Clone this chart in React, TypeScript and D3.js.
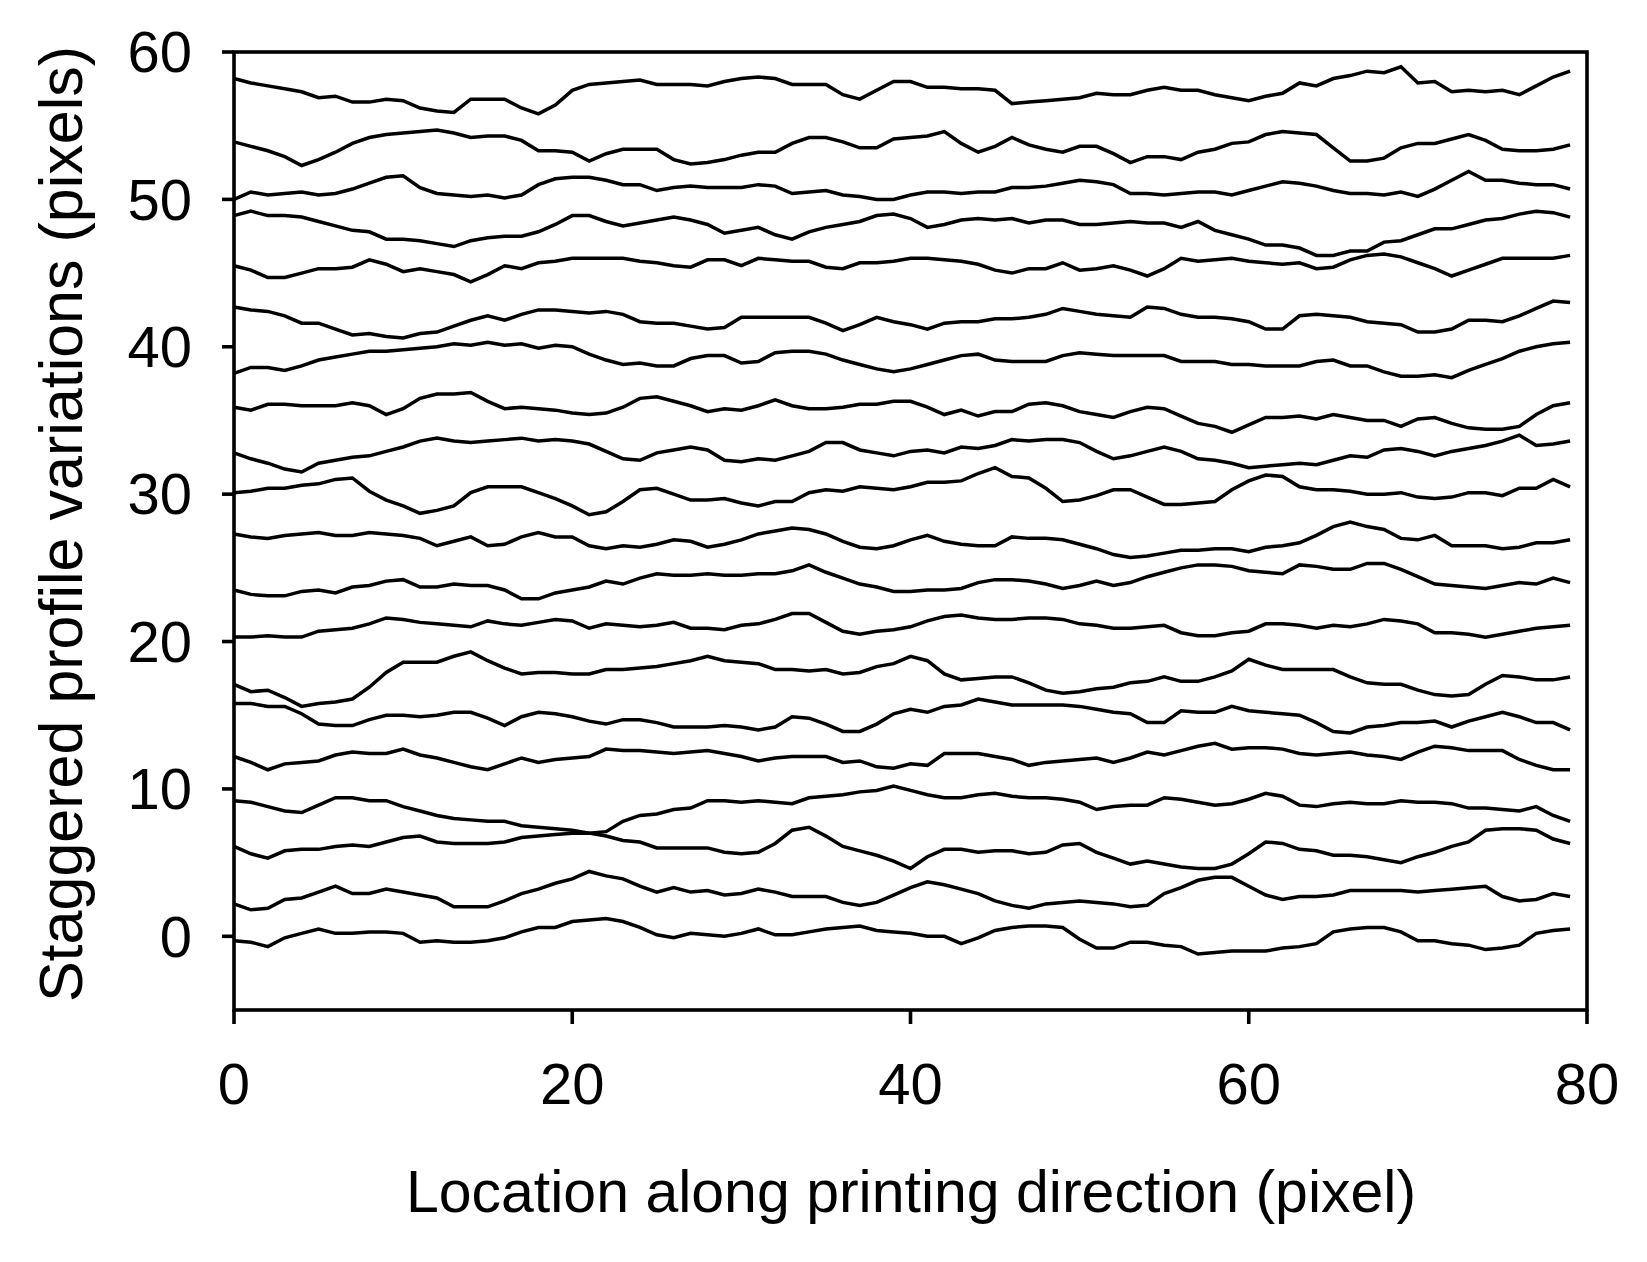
import React from 'react';
import * as d3 from 'd3';

const xTicks = [0, 20, 40, 60, 80];
const yTicks = [0, 10, 20, 30, 40, 50, 60];
const xTitle = 'Location along printing direction (pixel)';
const yTitle = 'Staggered profile variations (pixels)';

const L1 = [58.2,57.9,57.7,57.5,57.3,56.9,57.0,56.6,56.6,56.8,56.7,56.2,56.0,55.9,56.8,56.8,56.8,56.2,55.8,56.4,57.4,57.8,57.9,58.0,58.1,57.8,57.8,57.8,
  57.7,58.0,58.2,58.3,58.2,57.8,57.8,57.8,57.1,56.8,57.4,58.0,58.0,57.6,57.6,57.5,57.5,57.4,56.5,56.6,56.7,56.8,56.9,57.2,57.1,57.1,57.4,
  57.6,57.4,57.4,57.1,56.9,56.7,57.0,57.2,57.9,57.7,58.2,58.4,58.7,58.6,59.0,57.9,58.0,57.3,57.4,57.3,57.4,57.1,57.7,58.3,58.7];
const L2 = [53.9,53.6,53.3,52.9,52.3,52.7,53.2,53.8,54.2,54.4,54.5,54.6,54.7,54.5,54.2,54.3,54.3,54.0,53.3,53.3,53.2,52.6,53.1,53.4,53.4,53.4,52.7,52.4,
  52.5,52.7,53.0,53.2,53.2,53.8,54.2,54.2,53.9,53.5,53.5,54.1,54.2,54.3,54.6,53.8,53.2,53.6,54.2,53.7,53.4,53.2,53.6,53.6,53.1,52.5,52.9,
  52.9,52.7,53.2,53.4,53.8,53.9,54.4,54.6,54.5,54.4,53.5,52.6,52.6,52.8,53.5,53.8,53.8,54.1,54.4,54.0,53.4,53.3,53.3,53.4,53.7];
const L3 = [50.0,50.5,50.3,50.4,50.5,50.3,50.4,50.7,51.1,51.5,51.6,50.8,50.4,50.3,50.2,50.3,50.1,50.3,51.0,51.4,51.5,51.5,51.3,51.0,51.0,50.6,50.8,50.9,
  50.8,50.8,50.8,51.0,50.9,50.4,50.5,50.6,50.3,50.2,50.0,50.0,50.3,50.5,50.5,50.4,50.5,50.5,50.8,50.8,50.9,51.1,51.3,51.2,51.0,50.4,50.4,
  50.3,50.4,50.5,50.5,50.3,50.6,50.9,51.2,51.1,50.9,50.6,50.4,50.4,50.3,50.5,50.2,50.7,51.3,51.9,51.3,51.3,51.1,51.0,51.0,50.7];
const L4 = [48.9,49.2,48.9,48.9,48.8,48.5,48.2,47.9,47.8,47.3,47.3,47.2,47.0,46.8,47.2,47.4,47.5,47.5,47.8,48.3,48.9,48.9,48.5,48.2,48.4,48.6,48.8,48.6,
  48.3,47.7,47.9,48.1,47.6,47.3,47.8,48.1,48.3,48.5,48.9,49.0,48.7,48.1,48.3,48.6,48.7,48.6,48.7,48.4,48.6,48.6,48.3,48.3,48.4,48.5,48.4,
  48.4,48.1,48.5,47.9,47.6,47.3,46.9,46.9,46.7,46.2,46.2,46.5,46.5,47.1,47.2,47.6,48.0,48.0,48.3,48.6,48.7,49.0,49.2,49.1,48.8];
const L5 = [45.5,45.2,44.7,44.7,45.0,45.3,45.3,45.4,45.9,45.6,45.1,45.3,45.1,44.9,44.4,44.9,45.5,45.3,45.7,45.8,46.0,46.0,46.0,46.0,45.8,45.7,45.5,45.4,
  45.9,45.9,45.5,46.0,45.9,45.8,45.8,45.4,45.3,45.7,45.7,45.8,46.0,46.0,45.9,45.8,45.6,45.2,45.0,45.3,45.3,45.7,45.2,45.3,45.5,45.2,44.8,
  45.3,46.0,45.8,45.9,46.0,45.8,45.7,45.6,45.7,45.3,45.4,45.9,46.2,46.3,46.1,45.7,45.3,44.8,45.2,45.6,46.0,46.0,46.0,46.0,46.2];
const L6 = [42.7,42.5,42.4,42.1,41.6,41.6,41.2,40.8,40.9,40.7,40.6,40.9,41.0,41.4,41.8,42.1,41.8,42.2,42.5,42.5,42.4,42.3,42.4,42.2,41.7,41.6,41.6,41.4,
  41.2,41.3,42.0,42.0,42.0,42.0,42.0,41.6,41.1,41.5,42.0,41.7,41.5,41.2,41.6,41.7,41.7,41.9,41.9,42.0,42.2,42.6,42.4,42.2,42.1,42.0,42.7,
  42.6,42.2,42.0,42.0,41.9,41.7,41.2,41.2,42.1,42.2,42.1,42.0,41.7,41.6,41.5,41.0,41.0,41.2,41.8,41.8,41.7,42.1,42.6,43.1,43.0];
const L7 = [38.2,38.6,38.6,38.4,38.7,39.1,39.3,39.5,39.7,39.7,39.8,39.9,40.0,40.2,40.1,40.3,40.1,40.2,39.9,40.1,40.0,39.5,39.1,38.8,38.9,38.7,38.7,39.2,
  39.4,39.4,38.9,39.0,39.6,39.7,39.7,39.5,39.1,38.8,38.5,38.3,38.5,38.8,39.1,39.4,39.5,39.1,39.0,39.0,39.0,39.4,39.6,39.5,39.4,39.4,39.4,
  39.4,39.0,39.0,39.0,38.8,38.8,38.7,38.7,38.7,39.0,39.1,38.7,38.7,38.3,38.0,38.0,38.1,37.9,38.4,38.8,39.2,39.7,40.0,40.2,40.3];
const L8 = [35.9,35.7,36.1,36.1,36.0,36.0,36.0,36.2,36.0,35.4,35.8,36.5,36.8,36.8,36.9,36.3,35.8,35.9,35.8,35.7,35.5,35.4,35.5,35.9,36.5,36.6,36.3,36.0,
  35.6,35.8,35.7,36.0,36.4,36.0,35.8,35.8,35.9,36.1,36.1,36.3,36.3,35.9,35.4,35.7,35.3,35.6,35.6,36.1,36.2,36.0,35.6,35.4,35.2,35.6,35.9,
  35.8,35.3,34.8,34.6,34.2,34.7,35.2,35.2,35.3,35.1,35.4,35.2,35.0,35.0,34.6,35.1,35.2,34.8,34.5,34.4,34.4,34.6,35.4,36.0,36.2];
const L9 = [32.8,32.4,32.1,31.7,31.5,32.1,32.3,32.5,32.6,32.9,33.2,33.6,33.8,33.6,33.5,33.6,33.7,33.8,33.6,33.7,33.6,33.4,32.9,32.4,32.3,32.8,33.0,33.2,
  33.0,32.3,32.2,32.4,32.3,32.6,32.9,33.5,33.5,33.0,32.8,32.6,32.9,33.0,32.8,33.2,33.1,33.3,33.7,33.6,33.7,33.7,33.5,32.9,32.4,32.6,32.9,
  33.2,32.9,32.4,32.3,32.1,31.8,31.9,32.0,32.1,32.0,32.3,32.6,32.5,33.0,33.1,32.9,32.6,32.9,33.1,33.3,33.6,34.0,33.3,33.4,33.6];
const L10 = [30.1,30.2,30.4,30.4,30.6,30.7,31.0,31.1,30.2,29.6,29.2,28.7,28.9,29.2,30.1,30.5,30.5,30.5,30.1,29.7,29.2,28.6,28.8,29.5,30.3,30.4,30.0,29.6,
  29.6,29.7,29.4,29.2,29.5,29.5,30.1,30.3,30.2,30.5,30.4,30.3,30.5,30.8,30.8,30.9,31.4,31.8,31.2,31.1,30.4,29.5,29.6,29.9,30.3,30.3,29.8,
  29.3,29.3,29.4,29.5,30.3,30.9,31.3,31.2,30.5,30.3,30.3,30.2,30.0,30.0,30.1,29.8,29.7,29.8,30.1,30.1,29.9,30.4,30.4,31.0,30.5];
const L11 = [27.3,27.1,27.0,27.2,27.3,27.4,27.2,27.2,27.4,27.3,27.2,27.0,26.5,26.8,27.1,26.5,26.6,27.1,27.4,27.1,27.1,26.5,26.3,26.5,26.4,26.6,26.9,26.8,
  26.4,26.6,26.9,27.3,27.5,27.7,27.6,27.3,26.8,26.4,26.3,26.5,26.9,27.2,26.8,26.6,26.5,26.5,27.1,27.0,27.0,26.9,26.6,26.3,25.9,25.7,25.8,
  26.0,26.2,26.2,26.3,26.3,26.1,26.4,26.5,26.7,27.2,27.8,28.1,27.8,27.6,27.0,26.9,27.2,26.5,26.5,26.5,26.3,26.4,26.7,26.7,26.9];
const L12 = [23.5,23.2,23.1,23.1,23.4,23.5,23.3,23.7,23.8,24.1,24.2,23.7,23.7,23.9,23.8,23.8,23.5,22.9,22.9,23.3,23.5,23.7,24.1,23.9,24.3,24.6,24.5,24.5,
  24.6,24.5,24.5,24.6,24.6,24.8,25.2,24.7,24.3,23.9,23.7,23.4,23.4,23.5,23.5,23.6,24.0,24.2,24.2,24.1,23.9,23.6,23.8,24.1,23.8,24.0,24.4,
  24.7,25.0,25.2,25.2,25.1,24.8,24.7,24.6,25.2,25.1,24.9,24.9,25.3,25.3,24.9,24.4,23.9,23.8,23.7,23.6,23.8,24.0,23.9,24.3,24.0];
const L13 = [20.3,20.3,20.4,20.3,20.3,20.7,20.8,20.9,21.2,21.6,21.5,21.3,21.2,21.1,21.0,21.4,21.2,21.1,21.3,21.5,21.4,20.9,21.2,21.1,21.0,21.1,21.3,20.9,
  20.9,20.8,21.1,21.2,21.5,21.9,21.9,21.3,20.7,20.5,20.7,20.8,21.0,21.4,21.7,21.8,21.6,21.5,21.5,21.6,21.6,21.5,21.2,21.1,20.9,20.9,21.0,
  21.1,20.6,20.4,20.4,20.6,20.7,21.2,21.2,21.1,20.9,21.1,21.0,21.2,21.5,21.4,21.2,20.6,20.6,20.5,20.3,20.5,20.7,20.9,21.0,21.1];
const L14 = [17.1,16.6,16.7,16.2,15.6,15.8,15.9,16.1,16.9,17.9,18.6,18.6,18.6,19.0,19.3,18.7,18.2,17.8,17.9,17.9,17.8,17.8,18.1,18.1,18.2,18.3,18.5,18.7,
  19.0,18.7,18.6,18.5,18.1,18.1,18.0,18.1,17.8,17.9,18.3,18.5,19.0,18.7,17.8,17.4,17.5,17.6,17.6,17.2,16.7,16.5,16.6,16.8,16.9,17.2,17.3,
  17.6,17.3,17.3,17.6,18.0,18.8,18.4,18.1,18.1,18.1,18.1,17.6,17.2,17.1,17.1,16.7,16.4,16.3,16.4,17.1,17.7,17.6,17.4,17.4,17.6];
const L15 = [15.8,15.8,15.6,15.6,15.1,14.4,14.3,14.3,14.7,15.0,15.0,14.9,15.0,15.2,15.2,14.8,14.3,14.9,15.2,15.1,14.9,14.6,14.4,14.7,14.7,14.5,14.2,14.2,
  14.2,14.3,14.2,14.0,14.2,14.9,14.8,14.4,13.9,13.9,14.4,15.1,15.4,15.2,15.6,15.7,16.1,15.9,15.7,15.7,15.7,15.7,15.6,15.4,15.2,15.1,14.5,
  14.5,15.3,15.2,15.2,15.6,15.3,15.2,15.1,15.0,14.5,13.9,13.8,14.2,14.3,14.5,14.5,14.6,14.2,14.6,14.9,15.2,14.9,14.5,14.5,14.0];
const L16 = [12.2,11.8,11.3,11.7,11.8,11.9,12.3,12.5,12.4,12.4,12.7,12.3,12.1,11.8,11.5,11.3,11.7,12.1,11.8,12.0,12.1,12.2,12.7,12.6,12.6,12.5,12.4,12.5,
  12.6,12.4,12.2,11.9,12.1,12.2,12.2,12.2,11.8,11.9,11.5,11.4,11.7,11.6,12.4,12.4,12.4,12.2,12.0,11.6,11.8,11.9,12.0,12.1,11.8,12.1,12.5,
  12.3,12.6,12.9,13.1,12.7,12.8,12.8,12.7,12.4,12.3,12.4,12.5,12.3,12.2,12.0,12.5,12.9,12.8,12.6,12.6,12.6,12.0,11.6,11.3,11.3];
const L17 = [9.2,9.1,8.8,8.5,8.4,8.9,9.4,9.4,9.2,9.2,8.8,8.5,8.2,8.0,7.9,7.8,7.8,7.5,7.4,7.3,7.2,7.0,6.8,6.5,6.4,6.0,6.0,6.0,
  6.0,5.7,5.6,5.7,6.3,7.2,7.4,6.8,6.1,5.8,5.5,5.1,4.6,5.4,5.9,5.9,5.7,5.8,5.8,5.6,5.7,6.2,6.3,5.7,5.3,4.9,5.1,
  4.9,4.7,4.6,4.6,4.9,5.6,6.4,6.3,5.9,5.8,5.5,5.5,5.4,5.2,5.0,5.4,5.7,6.1,6.4,7.2,7.3,7.3,7.2,6.6,6.3];
const L18 = [6.1,5.6,5.3,5.8,5.9,5.9,6.1,6.2,6.1,6.4,6.7,6.8,6.4,6.3,6.3,6.3,6.4,6.7,6.8,6.9,7.0,7.0,7.1,7.8,8.2,8.3,8.6,8.7,
  9.2,9.2,9.1,9.2,9.1,9.0,9.4,9.5,9.6,9.8,9.9,10.2,9.9,9.6,9.4,9.4,9.6,9.7,9.5,9.4,9.4,9.3,9.1,8.6,8.8,8.9,8.9,
  9.4,9.3,9.1,8.9,9.0,9.3,9.7,9.5,8.9,8.8,9.0,9.1,9.0,9.0,9.2,9.1,9.1,9.0,8.7,8.7,8.6,8.5,8.8,8.2,7.8];
const L19 = [2.2,1.8,1.9,2.5,2.6,3.0,3.4,2.9,2.9,3.2,3.0,2.8,2.6,2.0,2.0,2.0,2.4,2.9,3.2,3.6,3.9,4.4,4.1,3.9,3.4,3.0,3.3,3.0,
  3.1,2.8,2.9,3.2,3.0,2.7,2.7,2.7,2.3,2.1,2.3,2.8,3.3,3.7,3.5,3.2,2.9,2.4,2.1,1.9,2.2,2.3,2.4,2.3,2.2,2.0,2.1,
  2.9,3.3,3.8,4.0,4.0,3.4,2.8,2.5,2.7,2.7,2.8,3.1,3.1,3.1,3.1,3.0,3.1,3.2,3.3,3.4,2.7,2.4,2.5,2.9,2.7];
const L20 = [-0.3,-0.4,-0.7,-0.1,0.2,0.5,0.2,0.2,0.3,0.3,0.2,-0.4,-0.3,-0.4,-0.4,-0.3,-0.1,0.3,0.6,0.6,1.0,1.1,1.2,1.0,0.6,0.1,-0.1,0.2,
  0.1,0.0,0.2,0.5,0.1,0.1,0.3,0.5,0.6,0.7,0.4,0.3,0.2,0.0,0.0,-0.5,-0.1,0.4,0.6,0.7,0.7,0.6,-0.2,-0.8,-0.8,-0.4,-0.4,
  -0.6,-0.7,-1.2,-1.1,-1.0,-1.0,-1.0,-0.8,-0.7,-0.5,0.3,0.5,0.6,0.6,0.3,-0.3,-0.3,-0.5,-0.6,-0.9,-0.8,-0.6,0.2,0.4,0.5];

const profiles = [L1, L2, L3, L4, L5, L6, L7, L8, L9, L10, L11, L12, L13, L14, L15, L16, L17, L18, L19, L20];

export default function App() {
  const W = 1647;
  const H = 1262;
  const left = 234, right = 1587, top = 52, bottom = 1010;
  const x = d3.scaleLinear().domain([0, 80]).range([left, right]);
  const y = d3.scaleLinear().domain([-5, 60]).range([bottom, top]);
  const line = d3.line<number>().x((_, i) => x(i)).y((d) => y(d));
  const font = "'Liberation Sans', Arial, sans-serif";
  const fsTick = 58;
  return (
    <svg width={W} height={H} style={{ position: 'absolute', left: 0, top: 0, background: '#fff' }} fontFamily={font}>
      <rect x={0} y={0} width={W} height={H} fill="#fff" />
      {profiles.map((p, k) => (
        <path key={k} d={line(p) || ''} fill="none" stroke="#000" strokeWidth={3.5} strokeLinejoin="miter" />
      ))}
      <rect x={left} y={top} width={right - left} height={bottom - top} fill="none" stroke="#000" strokeWidth={3.6} />
      {xTicks.map((t) => (
        <g key={'x' + t}>
          <line x1={x(t)} x2={x(t)} y1={bottom} y2={bottom + 14} stroke="#000" strokeWidth={3.6} />
          <text x={x(t)} y={bottom + 94} textAnchor="middle" fontSize={fsTick} fill="#000">{t}</text>
        </g>
      ))}
      {yTicks.map((t) => (
        <g key={'y' + t}>
          <line x1={left - 12} x2={left} y1={y(t)} y2={y(t)} stroke="#000" strokeWidth={3.6} />
          <text x={left - 42} y={y(t)} dy="0.35em" textAnchor="end" fontSize={fsTick} fill="#000">{t}</text>
        </g>
      ))}
      <text x={911} y={1212} textAnchor="middle" fontSize={59} fill="#000">{xTitle}</text>
      <text transform={`translate(82, 524) rotate(-90)`} textAnchor="middle" fontSize={61} fill="#000">{yTitle}</text>
    </svg>
  );
}
